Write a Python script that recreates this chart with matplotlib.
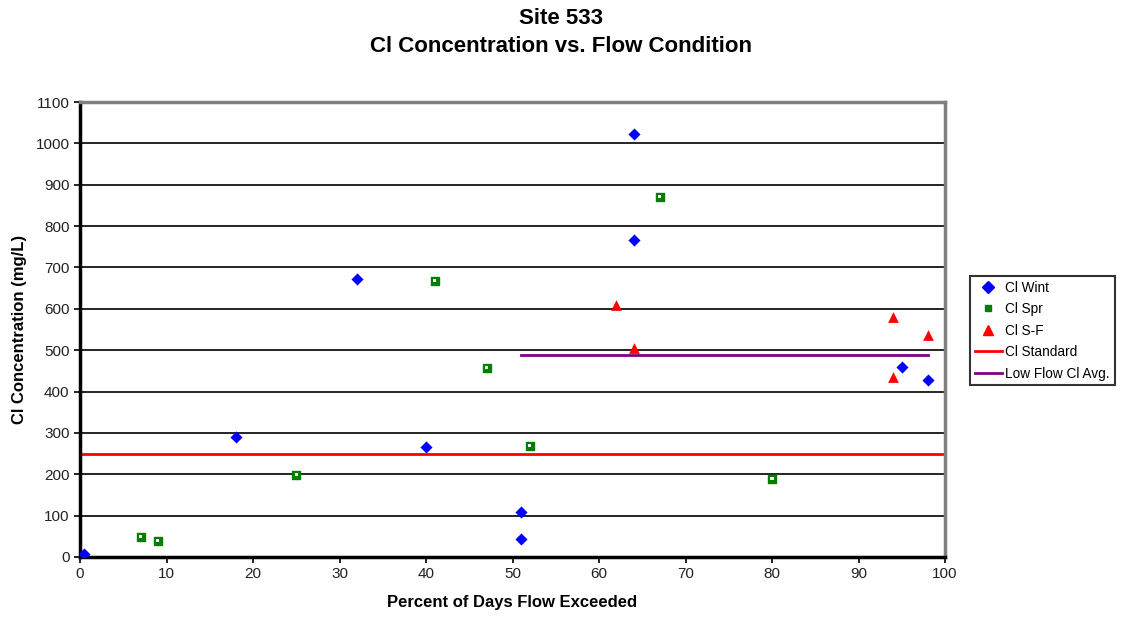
import matplotlib
matplotlib.use("Agg")
import matplotlib.pyplot as plt
from matplotlib.lines import Line2D

plt.rcParams['font.family'] = ['Liberation Sans', 'DejaVu Sans']

wint_x = [0.5, 18, 32, 40, 51, 51, 64, 64, 95, 98]
wint_y = [8, 290, 673, 267, 109, 44, 1023, 767, 459, 429]

spr_x = [7, 9, 25, 41, 47, 52, 67, 80]
spr_y = [49, 39, 199, 668, 458, 269, 871, 189]

sf_x = [62, 64, 94, 98, 94]
sf_y = [609, 506, 580, 537, 436]

standard_x = [0, 100]
standard_y = [250, 250]

lowflow_x = [51, 98]
lowflow_y = [489, 489]

x_ticks = list(range(0, 101, 10))
y_ticks = list(range(0, 1101, 100))

fig = plt.figure(figsize=(11.22, 6.18), dpi=100)
ax = fig.add_axes([80/1122, 1 - 557/618, (945-80)/1122, (557-102)/618])

ax.set_xlim(0, 100)
ax.set_ylim(0, 1100)
ax.set_xticks(x_ticks)
ax.set_yticks(y_ticks)
ax.yaxis.grid(True, color='black', linewidth=1.2)
ax.set_axisbelow(True)

ax.plot(standard_x, standard_y, color='#ff0000', linewidth=2, label='Cl Standard', zorder=2)
ax.plot(lowflow_x, lowflow_y, color='#800080', linewidth=2, label='Low Flow Cl Avg.', zorder=2)

ax.scatter(wint_x, wint_y, marker='D', s=38, color='#0000ff', label='Cl Wint', zorder=3, linewidths=0)
ax.scatter(spr_x, spr_y, marker='s', s=38, facecolor='#008000', edgecolor='#008000', label='Cl Spr', zorder=3)
ax.scatter(spr_x, spr_y, marker='s', s=5, facecolor='white', edgecolor='none', zorder=4)
ax.scatter(sf_x, sf_y, marker='^', s=60, color='#ff0000', label='Cl S-F', zorder=3, linewidths=0)

for side in ['top', 'right']:
    ax.spines[side].set_color('#808080')
    ax.spines[side].set_linewidth(2.5)
for side in ['left', 'bottom']:
    ax.spines[side].set_color('black')
    ax.spines[side].set_linewidth(2.5)

ax.tick_params(axis='both', labelsize=11, colors='black', length=4, width=1.2, direction='out')
for lbl in ax.get_xticklabels() + ax.get_yticklabels():
    lbl.set_color('#222222')

ax.set_xlabel('Percent of Days Flow Exceeded', fontsize=12, fontweight='bold', labelpad=10)
ax.set_ylabel('Cl Concentration (mg/L)', fontsize=12, fontweight='bold', labelpad=6)

fig.text(561/1122, 1 - 18/618, 'Site 533', ha='center', va='center', fontsize=16, fontweight='bold')
fig.text(561/1122, 1 - 47/618, 'Cl Concentration vs. Flow Condition', ha='center', va='center', fontsize=16, fontweight='bold')

handles = [
    Line2D([], [], marker='D', color='#0000ff', linestyle='none', markersize=6),
    Line2D([], [], marker='s', markerfacecolor='#008000', markeredgecolor='#008000', linestyle='none', markersize=5),
    Line2D([], [], marker='^', color='#ff0000', linestyle='none', markersize=7),
    Line2D([], [], color='#ff0000', linewidth=2),
    Line2D([], [], color='#800080', linewidth=2),
]
labels = ['Cl Wint', 'Cl Spr', 'Cl S-F', 'Cl Standard', 'Low Flow Cl Avg.']
leg = fig.legend(handles, labels, loc='upper left', bbox_to_anchor=(970/1122, 1 - 276/618),
                 fontsize=9.8, frameon=True, fancybox=False, edgecolor='black',
                 handlelength=2.0, borderpad=0.35, labelspacing=0.55, handletextpad=0.25,
                 borderaxespad=0)
leg.get_frame().set_linewidth(1.5)

fig.savefig('out.png', dpi=100)
